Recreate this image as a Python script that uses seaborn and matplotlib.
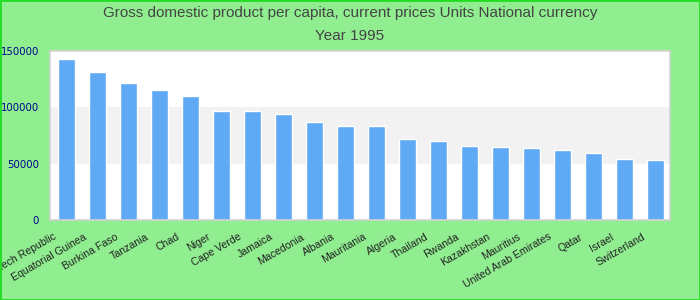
import matplotlib
matplotlib.use("Agg")
import matplotlib.pyplot as plt
import matplotlib.transforms as mtransforms
from matplotlib.patches import Rectangle
import seaborn as sns
import pandas as pd

countries = ["Czech Republic", "Equatorial Guinea", "Burkina Faso", "Tanzania", "Chad",
             "Niger", "Cape Verde", "Jamaica", "Macedonia", "Albania", "Mauritania",
             "Algeria", "Thailand", "Rwanda", "Kazakhstan", "Mauritius",
             "United Arab Emirates", "Qatar", "Israel", "Switzerland"]
gdp = [142800, 131300, 121400, 115200, 109800, 96400, 96400, 93800, 86600, 83000,
       83000, 72300, 70500, 66100, 65200, 64300, 62500, 59800, 54500, 53600]
yticks = [0, 50000, 100000, 150000]
title_lines = ["Gross domestic product per capita, current prices Units National currency",
               "Year 1995"]

df = pd.DataFrame({"country": countries, "gdp": gdp})

sns.set_theme(style="white")
plt.rcParams["font.family"] = ["Liberation Sans", "DejaVu Sans"]

fig = plt.figure(figsize=(7, 3), dpi=100, facecolor="#90ee90")
ax = fig.add_axes([50/700, 80/300, 620/700, 169/300])
ax.set_facecolor("white")

ax.axhspan(50000, 100000, color="#f2f2f2", zorder=0, lw=0)
sns.barplot(data=df, x="country", y="gdp", color="#60a9f5", saturation=1,
            width=0.55, ax=ax, zorder=2)

ax.set_xlim(-0.53, 19.47)
ax.set_ylim(0, 150000)
ax.set_yticks(yticks)
ax.set_yticklabels([str(v) for v in yticks], color="#00008b",
                   fontsize=7.3, family="DejaVu Sans")
ax.tick_params(axis="y", length=0, pad=8)
ax.tick_params(axis="x", length=0, pad=8.5)
ax.set_xlabel("")
ax.set_ylabel("")
ax.grid(False)

offset = mtransforms.ScaledTranslation(-9/100, 0, fig.dpi_scale_trans)
ax.set_xticks(range(len(countries)))
ax.set_xticklabels(countries, rotation=30, ha="right", fontsize=7.6, color="#222222")
for lbl in ax.get_xticklabels():
    lbl.set_transform(lbl.get_transform() + offset)

for s in ax.spines.values():
    s.set_color("#d3d3d3")
    s.set_linewidth(1.2)

fig.text(0.5, 1 - 13/300, title_lines[0], ha="center", va="center",
         fontsize=11, color="#444444")
fig.text(0.5, 1 - 36/300, title_lines[1], ha="center", va="center",
         fontsize=11, color="#444444")

fig.patches.append(Rectangle((0, 0), 1, 1, transform=fig.transFigure, fill=False,
                             edgecolor="#22dd22", linewidth=2, zorder=10))

fig.savefig("out.png", dpi=100, facecolor=fig.get_facecolor())
